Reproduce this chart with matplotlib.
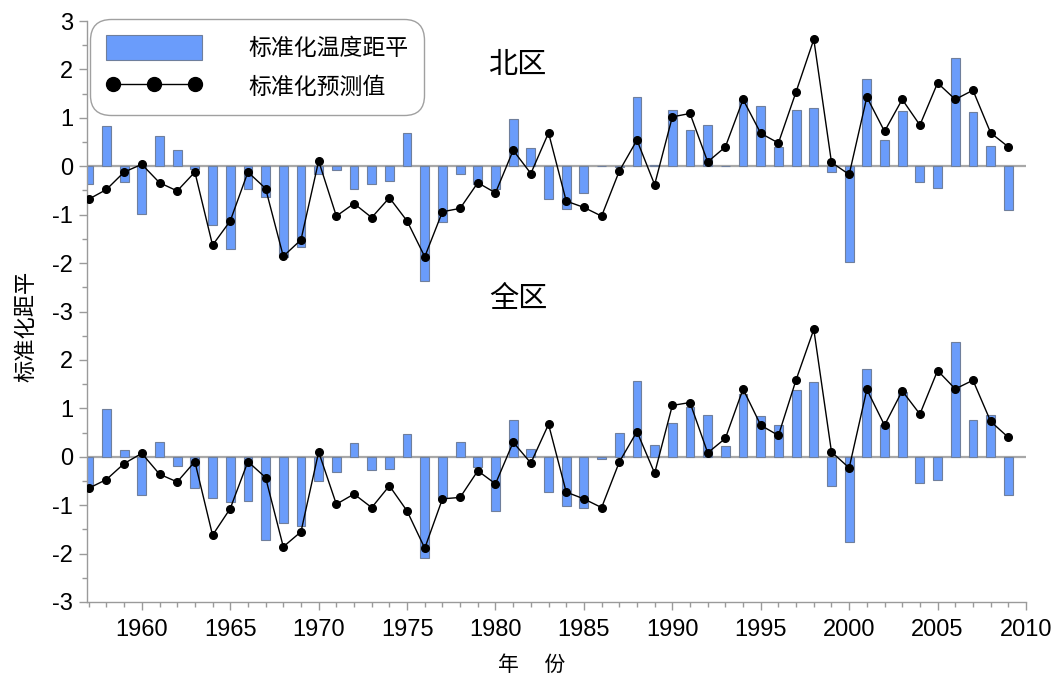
import numpy as np
import matplotlib
matplotlib.use('Agg')
import matplotlib.pyplot as plt
from matplotlib.lines import Line2D
from matplotlib.ticker import MultipleLocator, FixedLocator

plt.rcParams['font.family'] = ['Liberation Sans', 'Noto Sans CJK SC', 'DejaVu Sans']
plt.rcParams['axes.unicode_minus'] = False

years = np.arange(1957, 2010)

# 北区: standardized temperature anomaly (bars) and predicted value (line)
north_anom = [-0.37, 0.83, -0.32, -0.98, 0.63, 0.33, -0.05, -1.22, -1.70, -0.48,
              -0.63, -1.88, -1.67, -0.16, -0.07, -0.48, -0.36, -0.30, 0.68,
              -2.38, -1.15, -0.15, -0.36, -0.46, 0.98, 0.38, -0.67, -0.89, -0.56,
              0.01, -0.01, 1.42, 0.02, 1.17, 0.74, 0.85, 0.01,
              1.39, 1.24, 0.40, 1.16, 1.21, -0.12, -1.98, 1.80, 0.54, 1.14,
              -0.33, -0.44, 2.23, 1.12, 0.42, -0.91]
north_pred = [-0.68, -0.48, -0.12, 0.04, -0.34, -0.51, -0.12, -1.63, -1.13, -0.12,
              -0.46, -1.86, -1.52, 0.11, -1.03, -0.77, -1.06, -0.65, -1.13,
              -1.87, -0.94, -0.87, -0.34, -0.55, 0.33, -0.15, 0.69, -0.72, -0.85,
              -1.03, -0.10, 0.54, -0.38, 1.02, 1.09, 0.09, 0.40,
              1.38, 0.68, 0.48, 1.54, 2.62, 0.08, -0.17, 1.43, 0.72, 1.38,
              0.85, 1.72, 1.38, 1.57, 0.69, 0.40]

# 全区
all_anom = [-0.62, 0.98, 0.14, -0.78, 0.31, -0.19, -0.65, -0.86, -0.94, -0.92,
            -1.72, -1.36, -1.42, -0.50, -0.32, 0.29, -0.28, -0.26, 0.48,
            -2.10, -0.86, 0.30, -0.22, -1.12, 0.76, 0.17, -0.73, -1.01, -1.05,
            -0.04, 0.50, 1.57, 0.24, 0.70, 1.02, 0.86, 0.22,
            1.29, 0.85, 0.65, 1.38, 1.54, -0.61, -1.76, 1.82, 0.65, 1.34,
            -0.54, -0.47, 2.38, 0.76, 0.87, -0.78]
all_pred = [-0.65, -0.47, -0.14, 0.07, -0.36, -0.52, -0.10, -1.62, -1.07, -0.10,
            -0.43, -1.86, -1.55, 0.10, -0.98, -0.77, -1.05, -0.60, -1.12,
            -1.89, -0.87, -0.84, -0.29, -0.56, 0.30, -0.13, 0.67, -0.73, -0.87,
            -1.05, -0.11, 0.52, -0.34, 1.06, 1.12, 0.08, 0.38,
            1.40, 0.65, 0.44, 1.59, 2.63, 0.10, -0.23, 1.39, 0.65, 1.36,
            0.88, 1.78, 1.40, 1.58, 0.73, 0.40]

panel_names = ['北区', '全区']
ytick_labels = ['-3', '-2', '-1', '0', '1', '2', '-3', '-2', '-1', '0', '1', '2', '3']

shift = 6  # upper panel sits 6 units above the lower one
bar_face = '#6a9cfb'
bar_edge = '#6f7f9c'
grey = '#9a9a9a'

fig = plt.figure(figsize=(10.56, 6.75), dpi=100)
ax = fig.add_axes([87 / 1056, 73 / 675, 939 / 1056, 581 / 675])

xmin, xmax = 1956.9, 2010
for base, anom, pred in [(shift, north_anom, north_pred), (0, all_anom, all_pred)]:
    ax.plot([xmin, xmax], [base, base], color='#a8a8a8', lw=1.6, zorder=1)
    ax.bar(years, anom, bottom=base, width=0.5, color=bar_face,
           edgecolor=bar_edge, linewidth=0.8, zorder=2)
    ax.plot(years, np.array(pred) + base, color='black', lw=1.0,
            marker='o', ms=5.5, zorder=3)

ax.set_xlim(xmin, xmax)
ax.set_ylim(-3, 9)

ax.xaxis.set_major_locator(FixedLocator(np.arange(1960, 2011, 5)))
ax.xaxis.set_minor_locator(FixedLocator(np.arange(1957, 2010, 1)))
ax.set_yticks(np.arange(-3, 10, 1))
ax.set_yticklabels(ytick_labels)
ax.yaxis.set_minor_locator(MultipleLocator(0.5))

ax.tick_params(which='major', direction='out', length=6, width=1, color=grey,
               labelsize=17, pad=4)
ax.tick_params(which='minor', direction='out', length=3.5, width=1, color=grey)
ax.tick_params(axis='x', which='major', pad=6)

for s in ['top', 'right']:
    ax.spines[s].set_visible(False)
for s in ['left', 'bottom']:
    ax.spines[s].set_color(grey)
    ax.spines[s].set_linewidth(1)

# panel titles
ax.text(1981.2, 8.1, panel_names[0], fontsize=21, ha='center', va='center',
        family=['Noto Sans CJK SC'])
ax.text(1981.3, 3.25, panel_names[1], fontsize=21, ha='center', va='center',
        family=['Noto Sans CJK SC'])

ax.set_ylabel('标准化距平', fontsize=16, family=['Noto Sans CJK SC'])
ax.yaxis.set_label_coords(-0.065, 0.475)
ax.yaxis.label.set_va('center')
ax.set_xlabel('年\u3000 份', fontsize=15, family=['Noto Sans CJK SC'])
ax.xaxis.set_label_coords(0.474, -0.09)

# legend
bar_handle = plt.Rectangle((0, 0), 1, 1, facecolor=bar_face, edgecolor=bar_edge, lw=0.8)
line_handle = Line2D([], [], color='black', lw=1.0, marker='o', ms=10)
leg = ax.legend([bar_handle, line_handle], ['标准化温度距平', '标准化预测值'],
                loc='upper left', bbox_to_anchor=(90 / 1056, 1 - 19 / 675),
                bbox_transform=fig.transFigure, borderaxespad=0,
                prop={'family': ['Noto Sans CJK SC'], 'size': 16.5},
                handlelength=4.2, handleheight=1.3, handletextpad=2.0,
                labelspacing=0.6, borderpad=0.7, numpoints=3,
                fancybox=True, framealpha=1, edgecolor='#a0a0a0')
leg.get_frame().set_linewidth(1)
leg.get_frame().set_boxstyle('round', pad=0, rounding_size=0.9)

fig.savefig('out.png', dpi=100)
